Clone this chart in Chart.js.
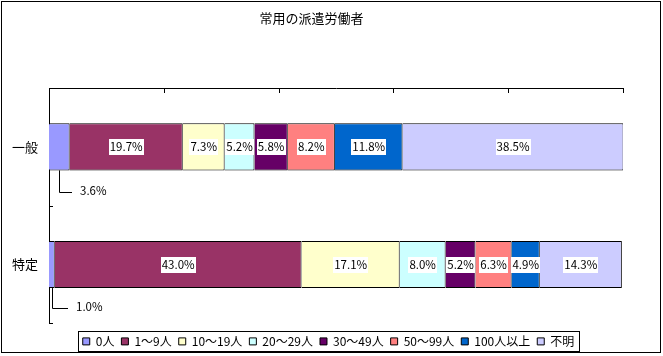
<!DOCTYPE html>
<html><head><meta charset="utf-8">
<script src="https://cdn.jsdelivr.net/npm/chart.js@4.4.1/dist/chart.umd.min.js"></script>
<style>html,body{margin:0;padding:0;background:#fff;}#wrap{width:663px;height:356px;position:relative;}</style>
</head><body><div id="wrap"><canvas id="c" width="663" height="356"></canvas></div>
<script>
const categories = ['一般', '特定'];
const seriesNames = ['0人', '1〜9人', '10〜19人', '20〜29人', '30〜49人', '50〜99人', '100人以上', '不明'];
const valuesGeneral = [3.6, 19.7, 7.3, 5.2, 5.8, 8.2, 11.8, 38.5];
const valuesSpecific = [1.0, 43.0, 17.1, 8.0, 5.2, 6.3, 4.9, 14.3];
const xTicks = [0, 20, 40, 60, 80, 100];
const colors = ['#9999FF', '#993366', '#FFFFCC', '#CCFFFF', '#660066', '#FF8080', '#0066CC', '#CCCCFF'];
const titleText = '常用の派遣労働者';

const FONT = "'Noto Sans CJK JP', 'DejaVu Sans', sans-serif";

// leader-line label placement for the small first segment (style, per category)
const leaderStyle = [{ dx: 21, dy: 22 }, { dx: 24.5, dy: 20 }];

const datasets = seriesNames.map((n, i) => ({
  label: n,
  data: [valuesGeneral[i], valuesSpecific[i]],
  backgroundColor: colors[i],
  borderColor: '#000',
  borderWidth: 1,
  categoryPercentage: 1,
  barPercentage: 0.4
}));

const LEGEND_DX = 17;
const LEGEND_DY = 5;

const deco = {
  id: 'deco',
  afterUpdate(chart) {
    const lg = chart.legend;
    if (!lg) return;
    lg.left += LEGEND_DX; lg.right += LEGEND_DX;
    lg.top += LEGEND_DY; lg.bottom += LEGEND_DY;
    (lg.legendHitBoxes || []).forEach(h => { h.left += LEGEND_DX; h.top += LEGEND_DY; });
  },
  afterDatasetsDraw(chart) {
    const ctx = chart.ctx;
    ctx.save();
    ctx.font = '11.5px ' + FONT;
    ctx.textBaseline = 'middle';
    chart.data.datasets.forEach((ds, di) => {
      const meta = chart.getDatasetMeta(di);
      meta.data.forEach((el, ci) => {
        const v = ds.data[ci];
        const txt = v.toFixed(1) + '%';
        const w = ctx.measureText(txt).width;
        const cx = (el.x + el.base) / 2;
        if (di === 0) {
          const st = leaderStyle[ci];
          const bottom = el.y + el.height / 2;
          const ly = Math.round(bottom + st.dy) + 0.5;
          const tx = Math.round(cx + st.dx);
          ctx.strokeStyle = '#000'; ctx.lineWidth = 1;
          ctx.beginPath();
          ctx.moveTo(Math.round(cx) + 0.5, bottom);
          ctx.lineTo(Math.round(cx) + 0.5, ly);
          ctx.lineTo(tx - 8, ly);
          ctx.stroke();
          ctx.fillStyle = '#000'; ctx.textAlign = 'left';
          ctx.fillText(txt, tx, ly - 2);
        } else {
          ctx.fillStyle = '#fff';
          ctx.fillRect(Math.round(cx - w / 2 - 1), Math.round(el.y - 8), Math.round(w + 2), 16);
          ctx.fillStyle = '#000'; ctx.textAlign = 'center';
          ctx.fillText(txt, cx, el.y);
        }
      });
    });
    ctx.restore();
  },
  afterDraw(chart) {
    const ctx = chart.ctx;
    const a = chart.chartArea;
    const xs = chart.scales.x, ys = chart.scales.y;
    ctx.save();
    ctx.strokeStyle = '#000'; ctx.lineWidth = 1;
    ctx.beginPath();
    xTicks.forEach(t => {
      const px = Math.round(xs.getPixelForValue(t)) + 0.5;
      ctx.moveTo(px, a.top); ctx.lineTo(px, a.top + 5);
    });
    for (let i = 0; i < categories.length; i++) {
      const py = Math.round(ys.getPixelForValue(i) + (ys.getPixelForValue(1) - ys.getPixelForValue(0)) / 2) + 0.5;
      ctx.moveTo(a.left, py); ctx.lineTo(a.left + 4, py);
    }
    ctx.stroke();
    const lg = chart.legend;
    if (lg && lg.legendHitBoxes && lg.legendHitBoxes.length) {
      const hb = lg.legendHitBoxes;
      const x0 = hb[0].left - 5;
      const last = hb[hb.length - 1];
      const x1 = last.left + last.width + 4;
      const cy = hb[0].top + hb[0].height / 2;
      const y0 = cy - 10;
      ctx.strokeRect(Math.round(x0) + 0.5, Math.round(y0) + 0.5, Math.round(x1 - x0), 20);
    }
    ctx.strokeRect(1.5, 1.5, 659, 351);
    ctx.restore();
  }
};

new Chart(document.getElementById('c'), {
  type: 'bar',
  data: { labels: categories, datasets },
  options: {
    indexAxis: 'y',
    responsive: false,
    animation: false,
    layout: { padding: { left: 0, right: 40, top: 0, bottom: 3.6 } },
    plugins: {
      title: { display: true, text: titleText, color: '#000', font: { family: FONT, size: 13, weight: 'normal' }, padding: { top: 10, bottom: 10 } },
      legend: {
        position: 'bottom',
        labels: { color: '#000', font: { family: FONT, size: 12 }, boxWidth: 7, boxHeight: 7, padding: 7 }
      },
      tooltip: { enabled: false }
    },
    scales: {
      x: {
        position: 'top', stacked: true, min: 0, max: 100,
        afterBuildTicks(s) { s.ticks = xTicks.map(v => ({ value: v })); },
        afterFit(s) { s.height = 88 - 10 - 10 - 15.6; },
        ticks: { display: false },
        grid: { display: false, drawTicks: false },
        border: { display: true, color: '#000', width: 1 }
      },
      y: {
        stacked: true,
        afterFit(s) { s.width = 49; },
        ticks: { color: '#000', font: { family: FONT, size: 13 }, padding: 11 },
        grid: { display: false, drawTicks: false },
        border: { display: true, color: '#000', width: 1 }
      }
    }
  },
  plugins: [deco]
});
</script></body></html>
